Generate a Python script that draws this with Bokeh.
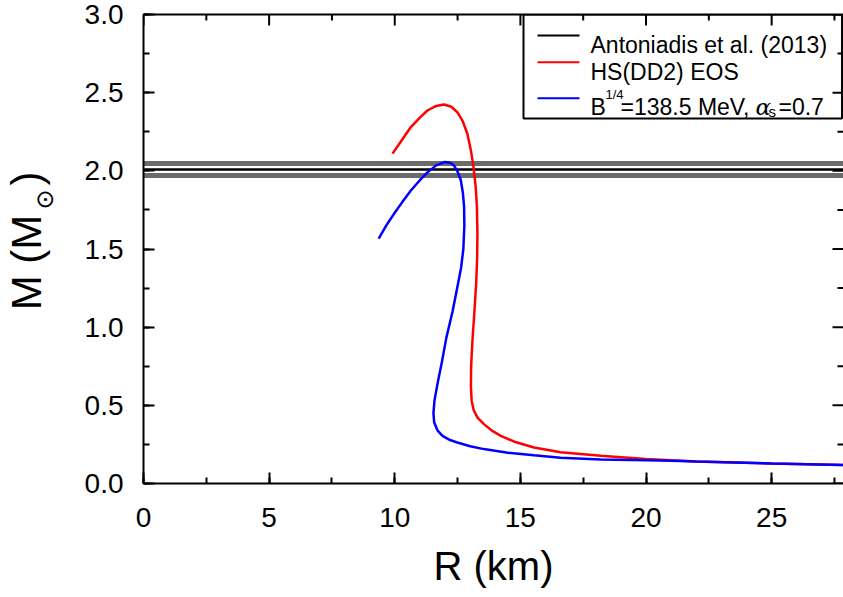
import math
from bokeh.plotting import figure
from bokeh.layouts import row
from bokeh.models import (LinearAxis, Range1d, Label, BoxAnnotation,
                          SingleIntervalTicker, NumeralTickFormatter, FixedTicker)
from bokeh.embed import file_html
from bokeh.resources import INLINE

# ---------------- data ----------------
# Antoniadis et al. (2013): 2.01 +/- 0.04 Msun
antoniadis_mass = [2.01]
antoniadis_bounds = [1.97, 2.05]

# HS(DD2) EOS mass-radius curve (R in km, M in Msun)
dd2_R = [28.0, 25.0, 22.0, 21.0, 20.0, 18.2, 16.6, 15.54, 14.8, 14.22, 13.85,
         13.55, 13.3, 13.14, 13.06, 13.03, 13.04, 13.09, 13.17, 13.24, 13.28,
         13.29, 13.27, 13.22, 13.13, 13.03, 12.89, 12.7, 12.49, 12.25, 11.96,
         11.65, 11.3, 11.0, 10.64, 10.3, 9.91]
dd2_M = [0.118, 0.128, 0.141, 0.148, 0.157, 0.177, 0.200, 0.230, 0.265, 0.305,
         0.340, 0.380, 0.420, 0.470, 0.530, 0.620, 0.750, 0.910, 1.100, 1.280,
         1.450, 1.600, 1.770, 1.900, 2.030, 2.130, 2.237, 2.320, 2.375, 2.410,
         2.424, 2.415, 2.386, 2.340, 2.280, 2.200, 2.110]

# Quark star curve, B^1/4 = 138.5 MeV, alpha_s = 0.7
qs_R = [28.0, 25.0, 22.0, 21.0, 20.0, 18.2, 16.6, 15.54, 14.5, 13.55, 13.0,
        12.49, 12.2, 11.9, 11.7, 11.57, 11.54, 11.58, 11.70, 11.88, 12.05, 12.3,
        12.52, 12.64, 12.73, 12.77, 12.76, 12.71, 12.63, 12.5, 12.36, 12.2,
        12.0, 11.65, 11.3, 11.0, 10.64, 10.3, 9.97, 9.7, 9.36]
qs_M = [0.118, 0.128, 0.140, 0.145, 0.148, 0.154, 0.165, 0.180, 0.197, 0.220,
        0.238, 0.262, 0.278, 0.305, 0.340, 0.390, 0.450, 0.530, 0.636, 0.780,
        0.930, 1.100, 1.280, 1.380, 1.500, 1.650, 1.770, 1.860, 1.940, 1.995,
        2.034, 2.052, 2.057, 2.035, 1.990, 1.940, 1.874, 1.800, 1.725, 1.660,
        1.567]

x_ticks_step = 5
y_ticks_step = 0.5
X_END = 27.86
Y_END = 3.0

# ---------------- layout helpers (pixel -> data) ----------------
W, H = 843, 597
LW = 62                      # width of the strip holding the y-axis title
FL, FT, FR, FB = 143, 14, 843, 483


def dx(px):
    return (px - FL) / (FR - FL) * X_END


def dy(py):
    return (FB - py) / (FB - FT) * Y_END


FONT = "Liberation Sans"

# ---------------- y-axis title strip ----------------
# The row layout aligns this strip's frame with the main frame (rows FT..FB),
# so its y range is chosen such that data y = H - pixel row.
lab = figure(width=LW, height=H, x_range=Range1d(0, LW),
             y_range=Range1d(H - FB, H - FT),
             output_backend="svg", toolbar_location=None,
             x_axis_location=None, y_axis_location=None,
             min_border=0, min_border_left=0, min_border_right=0,
             min_border_top=FT, min_border_bottom=H - FB)
lab.outline_line_color = None
lab.xgrid.visible = False
lab.ygrid.visible = False
lab.background_fill_color = "white"
lab.border_fill_color = "white"


def ylab(x, y, s, size, font=FONT):
    lab.add_layout(Label(x=x, y=H - y, text=s, angle=math.pi / 2,
                         text_font=font, text_font_size=size,
                         text_baseline="middle", text_align="center",
                         text_color="black"))


ylab(26, 262, "M (M", "42px")
ylab(44, 199, "\u2299", "24px", font="DejaVu Sans")
ylab(26, 178, ")", "42px")

# ---------------- main plot ----------------
p = figure(width=W - LW, height=H, x_range=Range1d(0, X_END),
           y_range=Range1d(0, Y_END), output_backend="svg",
           toolbar_location=None, min_border_left=FL - LW, min_border_right=0,
           min_border_top=FT, min_border_bottom=H - FB)
p.outline_line_color = None
p.xgrid.visible = False
p.ygrid.visible = False
p.background_fill_color = "white"
p.border_fill_color = "white"

p.add_layout(LinearAxis(ticker=FixedTicker(ticks=[], minor_ticks=[])), "above")

bottom_axis = p.below[0]
left_axis = p.left[0]
top_axis = p.above[0]
bottom_axis.ticker = SingleIntervalTicker(interval=x_ticks_step, num_minor_ticks=2)
left_axis.ticker = SingleIntervalTicker(interval=y_ticks_step, num_minor_ticks=2)
left_axis.formatter = NumeralTickFormatter(format="0.0")

for ax in (bottom_axis, left_axis, top_axis):
    ax.axis_line_width = 2
    ax.axis_line_color = "black"
    ax.major_tick_line_width = 2
    ax.minor_tick_line_width = 2
    ax.major_tick_line_color = "black"
    ax.minor_tick_line_color = "black"
    ax.major_tick_in = 11
    ax.major_tick_out = 0
    ax.minor_tick_in = 6
    ax.minor_tick_out = 0
    ax.major_label_text_font = FONT
    ax.major_label_text_font_size = "28px"
    ax.major_label_text_color = "black"
top_axis.major_label_standoff = 0

bottom_axis.major_label_standoff = 24
left_axis.major_label_standoff = 20
bottom_axis.axis_label = "R (km)"
bottom_axis.axis_label_text_font = FONT
bottom_axis.axis_label_text_font_size = "40px"
bottom_axis.axis_label_text_font_style = "normal"
bottom_axis.axis_label_text_color = "black"
bottom_axis.axis_label_standoff = 14

# inward ticks on the top and right frame edges (half of each dash is clipped)
x_major = [i * x_ticks_step for i in range(int(X_END // x_ticks_step) + 1)]
x_minor = [v + x_ticks_step / 2 for v in x_major if v + x_ticks_step / 2 <= X_END]
y_major = [i * y_ticks_step for i in range(int(Y_END / y_ticks_step) + 1)]
y_minor = [v + y_ticks_step / 2 for v in y_major if v + y_ticks_step / 2 < Y_END]
p.scatter(x=x_major, y=[Y_END] * len(x_major), marker="dash", angle=math.pi / 2,
          size=22, line_width=2, line_color="black")
p.scatter(x=x_minor, y=[Y_END] * len(x_minor), marker="dash", angle=math.pi / 2,
          size=12, line_width=2, line_color="black")
p.scatter(x=[X_END] * len(y_major), y=y_major, marker="dash",
          size=22, line_width=2, line_color="black")
p.scatter(x=[X_END] * len(y_minor), y=y_minor, marker="dash",
          size=12, line_width=2, line_color="black")

# ---------------- data marks ----------------
p.hspan(y=antoniadis_bounds, line_width=5, line_color="#6b6b6b")
p.hspan(y=antoniadis_mass, line_width=2.5, line_color="black")
p.line(dd2_R, dd2_M, line_width=2.5, line_color="#ff0000")
p.line(qs_R, qs_M, line_width=2.5, line_color="#0000ff")

# ---------------- legend ----------------
p.add_layout(BoxAnnotation(left=dx(523), right=dx(841.5), top=dy(FT),
                           bottom=dy(118), fill_color="white", fill_alpha=1,
                           line_color="black", line_alpha=1, line_width=2,
                           level="underlay"))
leg_colors = ["black", "#ff0000", "#0000ff"]
leg_rows = [35, 61.7, 97.7]
p.segment(x0=[dx(537)] * 3, x1=[dx(579)] * 3,
          y0=[dy(r) for r in leg_rows], y1=[dy(r) for r in leg_rows],
          line_color=leg_colors, line_width=2)


def txt(x, y, s, size="23px", font=FONT, style="normal"):
    p.add_layout(Label(x=dx(x), y=dy(y), text=s, text_font=font,
                       text_font_size=size, text_font_style=style,
                       text_baseline="alphabetic", text_align="left",
                       text_color="black"))


txt(590, 44.5, "Antoniadis et al. (2013)")
txt(590, 71.5, "HS(DD2) EOS")
txt(590, 106.5, "B")
txt(605, 93.5, "1/4", size="13px")
txt(620, 106.5, "=138.5 MeV,")
txt(755, 106.5, "\u03b1", size="23px", font="DejaVu Serif", style="italic")
txt(768, 110.5, "s", size="15px")
txt(778, 106.5, "=0.7")

layout = row(lab, p)
open("out.html", "w").write(file_html(layout, INLINE))
